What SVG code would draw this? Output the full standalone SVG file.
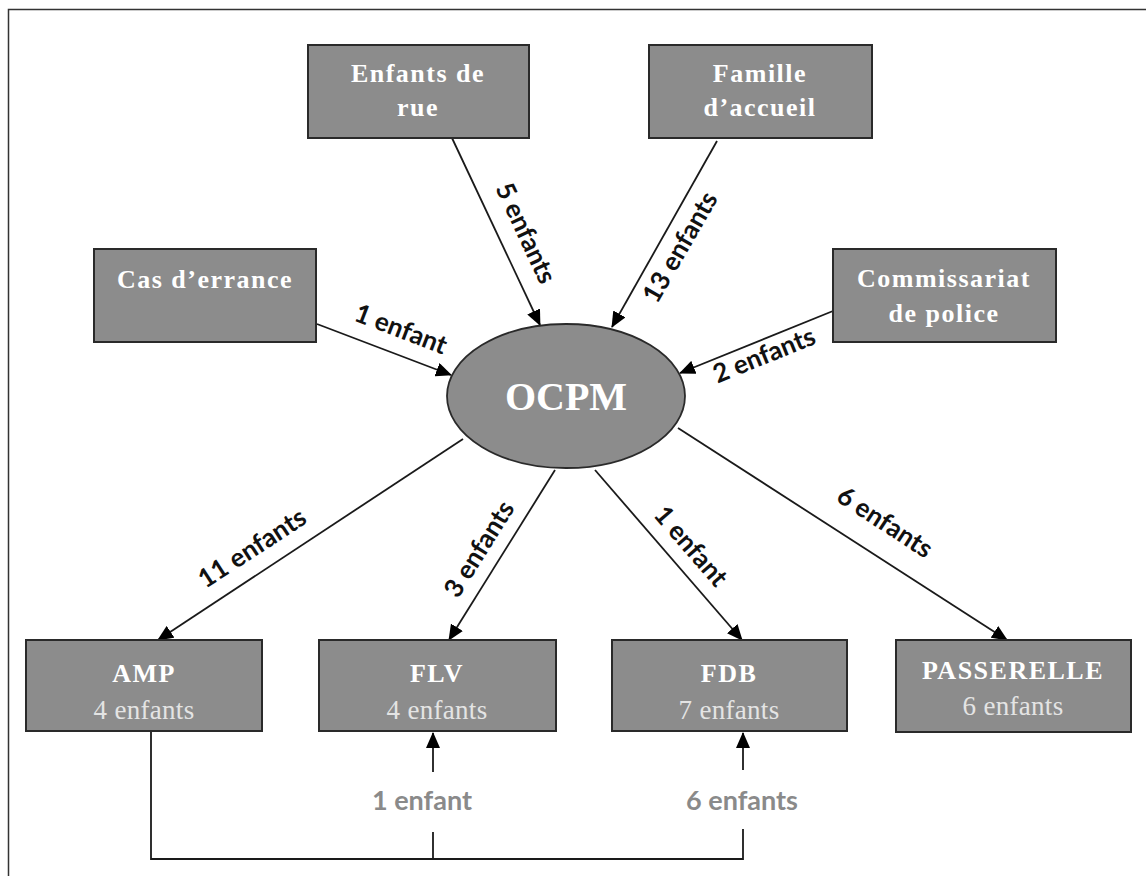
<svg xmlns="http://www.w3.org/2000/svg" width="1146" height="876" viewBox="0 0 1146 876">
<style>
.box{fill:#8c8c8c;stroke:#2a2a2a;stroke-width:2}
.t{font-family:"Liberation Serif","Times New Roman",serif;font-weight:bold;font-size:26px;fill:#ffffff;text-anchor:middle;letter-spacing:1.5px}
.s{font-family:"Liberation Serif","Times New Roman",serif;font-size:27px;fill:#e4e4e4;text-anchor:middle;letter-spacing:0.3px}
.c{stroke:#1a1a1a;stroke-width:1.8;fill:none}
.a{marker-end:url(#ah)}
.l{font-family:Lato,"Open Sans",sans-serif;font-weight:bold;font-size:26px;fill:#111;text-anchor:middle}
.g{font-family:Lato,"Open Sans",sans-serif;font-weight:bold;font-size:27px;fill:#8a8a8a;text-anchor:middle}
</style>
<defs>
<marker id="ah" markerUnits="userSpaceOnUse" markerWidth="16" markerHeight="14" refX="15" refY="7" orient="auto">
<path d="M0,0 L16,7 L0,14 Z" fill="#000"/>
</marker>
</defs>
<rect x="0" y="0" width="1146" height="876" fill="#fff"/>
<path d="M8.5,876 V9.5 H1146" fill="none" stroke="#333" stroke-width="1.5"/>

<g id="connectors">
<line class="c a" x1="452" y1="138" x2="540" y2="325"/>
<line class="c a" x1="717" y1="141" x2="612" y2="327"/>
<line class="c a" x1="317" y1="324" x2="451" y2="375"/>
<line class="c a" x1="833" y1="311" x2="680" y2="373"/>
<line class="c a" x1="463" y1="439" x2="158" y2="640"/>
<line class="c a" x1="555" y1="470" x2="449" y2="640"/>
<line class="c a" x1="595" y1="470" x2="742" y2="640"/>
<line class="c a" x1="678" y1="428" x2="1007" y2="640"/>
<polyline class="c" points="151,731 151,859 743,859 743,829"/>
<line class="c" x1="433" y1="859" x2="433" y2="832"/>
<line class="c a" x1="433" y1="772" x2="433" y2="733"/>
<line class="c a" x1="743" y1="770" x2="743" y2="733"/>
<text class="l" transform="translate(526,233) rotate(65)" y="9">5 enfants</text>
<text class="l" transform="translate(680,247) rotate(-60)" y="9">13 enfants</text>
<text class="l" transform="translate(401,329) rotate(21)" y="9">1 enfant</text>
<text class="l" transform="translate(764,355) rotate(-22)" y="9">2 enfants</text>
<text class="l" transform="translate(252,548) rotate(-33)" y="9">11 enfants</text>
<text class="l" transform="translate(479,549) rotate(-58)" y="9">3 enfants</text>
<text class="l" transform="translate(691,546) rotate(49)" y="9">1 enfant</text>
<text class="l" transform="translate(885,522) rotate(33)" y="9">6 enfants</text>
<text class="g" x="422" y="810">1 enfant</text>
<text class="g" x="742" y="810">6 enfants</text>
</g>

<g id="ocpm">
<ellipse cx="566" cy="396" rx="119" ry="72" fill="#8c8c8c" stroke="#2a2a2a" stroke-width="1.8"/>
<text x="566" y="410" style="font-family:'Liberation Serif','Times New Roman',serif;font-weight:bold;font-size:40px;fill:#fff;text-anchor:middle">OCPM</text>
</g>

<g id="enfants-de-rue">
<rect class="box" x="308" y="45" width="221" height="93"/>
<text class="t" x="418" y="82">Enfants de</text>
<text class="t" x="418" y="116">rue</text>
</g>
<g id="famille-accueil">
<rect class="box" x="649" y="45" width="223" height="93"/>
<text class="t" x="760" y="82">Famille</text>
<text class="t" x="760" y="116">d’accueil</text>
</g>
<g id="cas-errance">
<rect class="box" x="94" y="249" width="222" height="93"/>
<text class="t" x="205" y="288">Cas d’errance</text>
</g>
<g id="commissariat">
<rect class="box" x="833" y="249" width="223" height="93"/>
<text class="t" x="944" y="287">Commissariat</text>
<text class="t" x="944" y="322">de police</text>
</g>
<g id="amp">
<rect class="box" x="26" y="640" width="236" height="91"/>
<text class="t" x="144" y="682">AMP</text>
<text class="s" x="144" y="719">4 enfants</text>
</g>
<g id="flv">
<rect class="box" x="319" y="640" width="237" height="91"/>
<text class="t" x="437" y="682">FLV</text>
<text class="s" x="437" y="719">4 enfants</text>
</g>
<g id="fdb">
<rect class="box" x="612" y="640" width="235" height="91"/>
<text class="t" x="729" y="682">FDB</text>
<text class="s" x="729" y="719">7 enfants</text>
</g>
<g id="passerelle">
<rect class="box" x="896" y="640" width="235" height="92"/>
<text class="t" x="1013" y="679">PASSERELLE</text>
<text class="s" x="1013" y="715">6 enfants</text>
</g>
</svg>
